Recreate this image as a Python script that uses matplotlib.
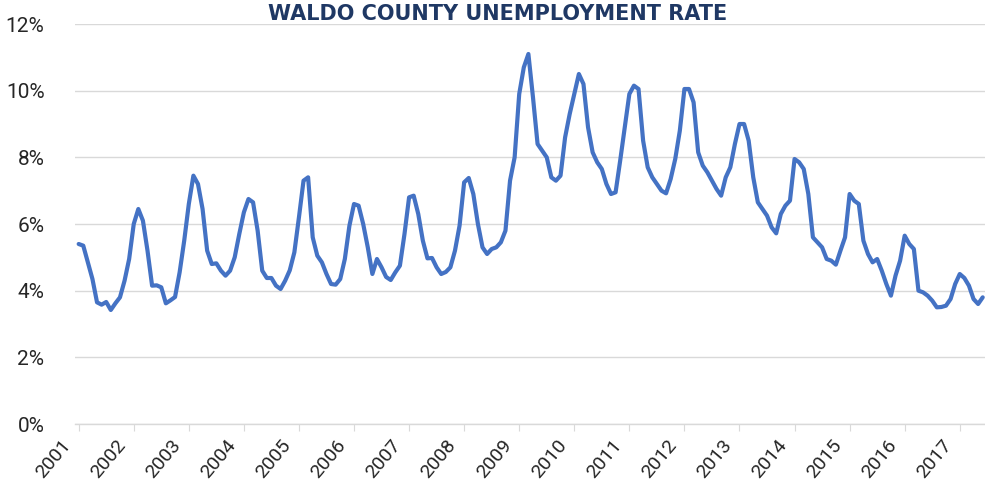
import matplotlib
matplotlib.use("Agg")
import matplotlib.pyplot as plt
from matplotlib.ticker import FuncFormatter
from matplotlib.transforms import ScaledTranslation

# Monthly unemployment rate (%), January 2001 onward
rate_2001 = [5.4, 5.35, 4.85, 4.35, 3.65, 3.58, 3.66, 3.42, 3.62, 3.8, 4.3, 4.95]
rate_2002 = [6.0, 6.45, 6.1, 5.2, 4.15, 4.16, 4.1, 3.62, 3.71, 3.81, 4.55, 5.5]
rate_2003 = [6.6, 7.45, 7.2, 6.45, 5.2, 4.8, 4.82, 4.6, 4.45, 4.6, 5.0, 5.7]
rate_2004 = [6.35, 6.75, 6.65, 5.8, 4.6, 4.38, 4.38, 4.15, 4.05, 4.3, 4.61, 5.15]
rate_2005 = [6.2, 7.3, 7.4, 5.6, 5.05, 4.85, 4.5, 4.2, 4.18, 4.35, 4.95, 5.95]
rate_2006 = [6.6, 6.55, 6.0, 5.3, 4.5, 4.95, 4.7, 4.41, 4.32, 4.55, 4.75, 5.7]
rate_2007 = [6.8, 6.85, 6.3, 5.5, 4.97, 4.98, 4.7, 4.5, 4.56, 4.7, 5.2, 5.95]
rate_2008 = [7.25, 7.38, 6.9, 6.0, 5.3, 5.1, 5.25, 5.3, 5.45, 5.8, 7.3, 8.0]
rate_2009 = [9.9, 10.7, 11.1, 9.8, 8.4, 8.2, 8.0, 7.4, 7.3, 7.45, 8.6, 9.3]
rate_2010 = [9.9, 10.5, 10.2, 8.9, 8.15, 7.85, 7.65, 7.2, 6.9, 6.95, 7.9, 8.9]
rate_2011 = [9.9, 10.15, 10.05, 8.5, 7.7, 7.4, 7.2, 7.0, 6.92, 7.35, 7.95, 8.8]
rate_2012 = [10.05, 10.05, 9.65, 8.15, 7.75, 7.55, 7.3, 7.05, 6.85, 7.4, 7.7, 8.4]
rate_2013 = [9.0, 9.0, 8.5, 7.4, 6.65, 6.45, 6.25, 5.9, 5.72, 6.3, 6.55, 6.7]
rate_2014 = [7.95, 7.85, 7.65, 6.9, 5.6, 5.45, 5.3, 4.95, 4.9, 4.78, 5.2, 5.6]
rate_2015 = [6.9, 6.7, 6.6, 5.5, 5.1, 4.85, 4.95, 4.6, 4.2, 3.85, 4.45, 4.9]
rate_2016 = [5.65, 5.4, 5.25, 4.0, 3.95, 3.85, 3.7, 3.5, 3.51, 3.55, 3.75, 4.2]
rate_2017 = [4.5, 4.38, 4.15, 3.75, 3.6, 3.8]

years = [str(y) for y in range(2001, 2018)]

rates = (rate_2001 + rate_2002 + rate_2003 + rate_2004 + rate_2005 + rate_2006
         + rate_2007 + rate_2008 + rate_2009 + rate_2010 + rate_2011 + rate_2012
         + rate_2013 + rate_2014 + rate_2015 + rate_2016 + rate_2017)
months = list(range(len(rates)))

W, H = 985, 496
fig = plt.figure(figsize=(W / 100, H / 100), dpi=100)
fig.patch.set_facecolor("white")

ax_left, ax_right = 75 / W, 1.0
ax_bottom, ax_top = (H - 424) / H, (H - 24) / H
ax = fig.add_axes([ax_left, ax_bottom, ax_right - ax_left, ax_top - ax_bottom])

ax.plot(months, rates, color="#4472C4", linewidth=3.0, solid_joinstyle="round",
        solid_capstyle="round", clip_on=False, zorder=3)

ax.set_ylim(0, 12)
ax.set_yticks(range(0, 13, 2))
ax.yaxis.set_major_formatter(FuncFormatter(lambda v, p: f"{int(v)}%"))
ax.set_xlim(-0.8, 197.5)
ax.set_xticks(range(0, 12 * len(years), 12))
ax.set_xticklabels(years)

label_fonts = ["Roboto", "DejaVu Sans"]
ax.grid(axis="y", color="#D9D9D9", linewidth=1.0, zorder=0)
ax.set_axisbelow(True)
for side in ("top", "right", "left"):
    ax.spines[side].set_visible(False)
ax.spines["bottom"].set_color("#D9D9D9")
ax.spines["bottom"].set_linewidth(1.0)
ax.tick_params(axis="y", length=0, pad=22)
ax.tick_params(axis="x", length=5, color="#D9D9D9", pad=0)

for lab in ax.get_yticklabels():
    lab.set_family(label_fonts)
    lab.set_fontsize(15)
    lab.set_color("#262626")

shift = ScaledTranslation(-18 / 100, -5 / 100, fig.dpi_scale_trans)
for lab in ax.get_xticklabels():
    lab.set_family(label_fonts)
    lab.set_fontsize(14)
    lab.set_color("#262626")
    lab.set_rotation(50)
    lab.set_ha("right")
    lab.set_va("top")
    lab.set_rotation_mode("anchor")
    lab.set_transform(lab.get_transform() + shift)

fig.text(0.505, (H - 20) / H, "WALDO COUNTY UNEMPLOYMENT RATE", ha="center", va="baseline",
         fontsize=15, fontweight="heavy", color="#1F3864", family=["DejaVu Sans"])

fig.savefig("out.png", dpi=100, facecolor="white")
